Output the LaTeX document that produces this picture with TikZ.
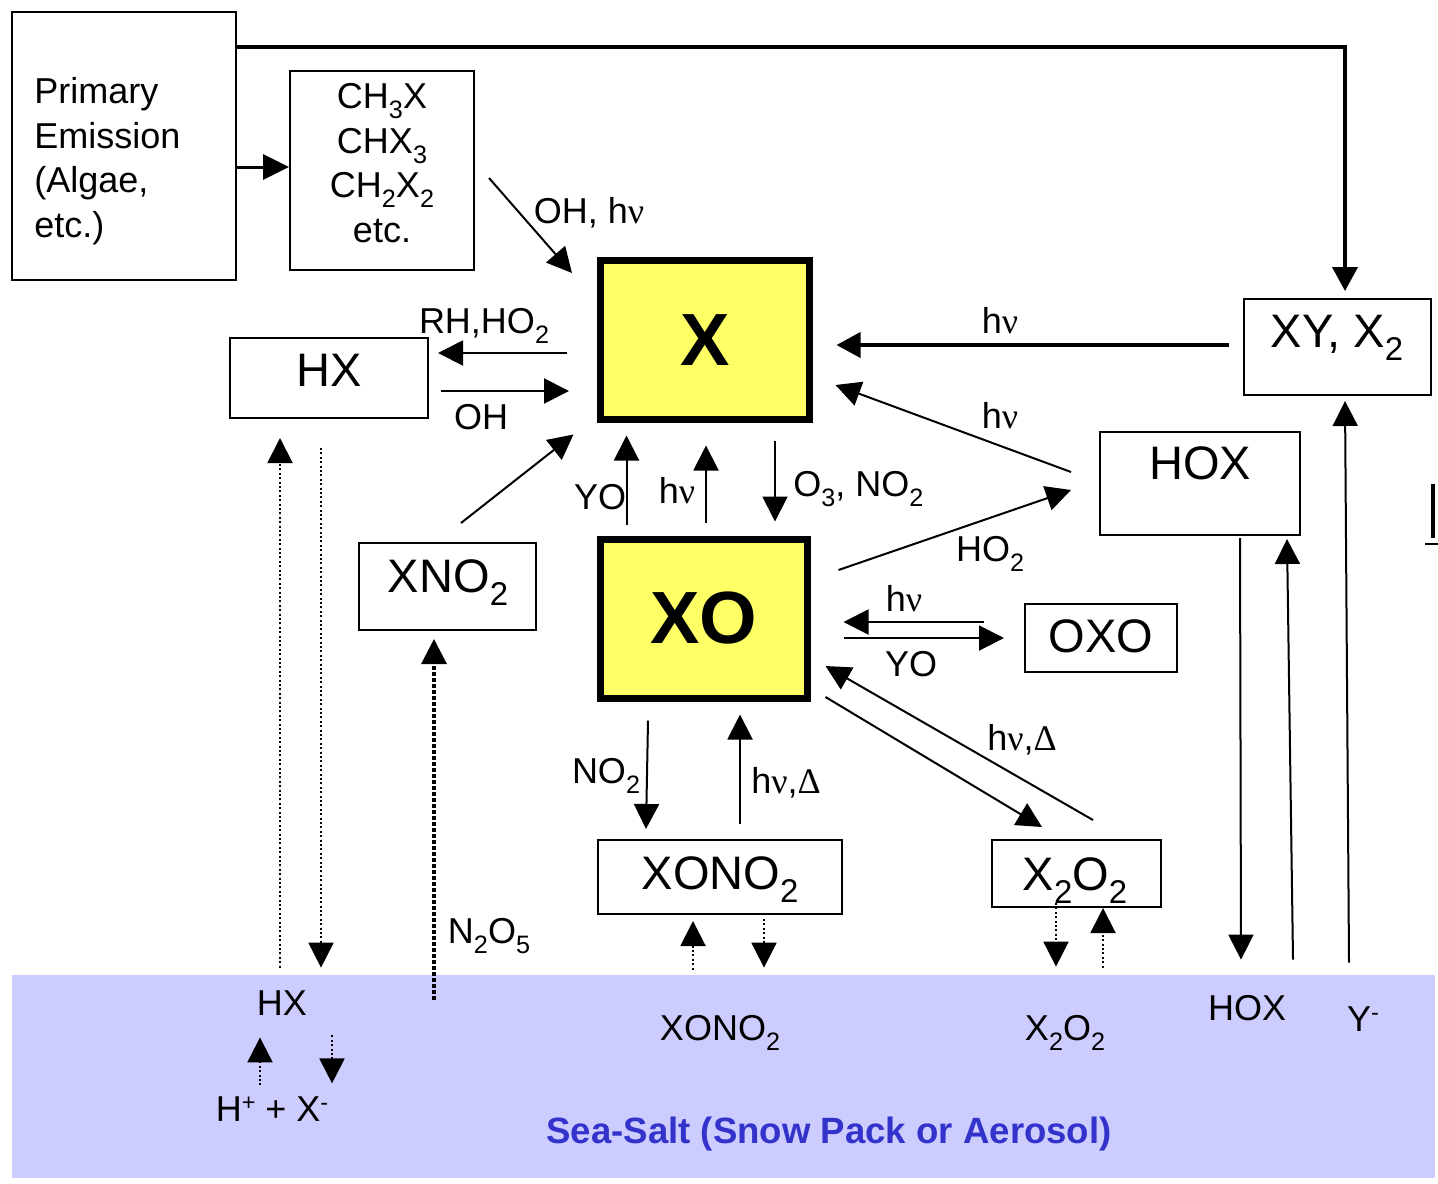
\documentclass[tikz,border=0pt]{standalone}
\usepackage{fontspec}
\usepackage{graphicx}
\setmainfont{Liberation Sans}
\newfontfamily\grk{Liberation Serif}
\usetikzlibrary{arrows.meta,calc}
\definecolor{xyellow}{HTML}{FFFF66}
\definecolor{seafill}{HTML}{CCCCFF}
\definecolor{seablue}{HTML}{3333CC}
\newcommand{\myhnu}{h{\grk ν}}
\newcommand{\mydelta}{{\grk Δ}}
\newcommand{\dn}[1]{\raisebox{-0.28em}{\scalebox{0.7}{#1}}}
\newcommand{\up}[1]{\raisebox{0.3em}{\scalebox{0.65}{#1}}}
\begin{document}
\begin{tikzpicture}[x=0.5pt,y=-0.5pt,
  box/.style={draw,line width=1pt,rectangle,inner sep=0pt},
  ybox/.style={draw,line width=3.5pt,fill=xyellow,rectangle,inner sep=0pt,
    minimum width=104.5pt,minimum height=79.5pt,font=\bfseries\fontsize{37}{40}\selectfont},
  lbl/.style={inner sep=0pt,anchor=base,font=\fontsize{18}{22}\selectfont},
  big/.style={inner sep=0pt,anchor=base,font=\fontsize{23.5}{28}\selectfont},
  arr/.style={line width=1pt,-{Triangle[length=12.5pt,width=12.5pt]}},
  thickarr/.style={line width=2pt,-{Triangle[length=12pt,width=12.5pt]}},
  dotarr/.style={line width=1pt,dash pattern=on 1pt off 1.2pt,-{Triangle[length=12.5pt,width=12.5pt]}}
]
\useasboundingbox (0,0) rectangle (1438,1183);

% sea salt
\node[fill=seafill,inner sep=0pt,minimum width=711.5pt,minimum height=101.5pt] (sea) at (723.5,1076.5) {};

% boxes
\node[box,minimum width=112pt,minimum height=134pt] (prim) at (124,146) {};
\node[inner sep=0pt,anchor=west,align=left,font=\fontsize{18}{22.3}\selectfont] (primt) at (34,161) {Primary\\Emission\\(Algae,\\etc.)};
\node[box,minimum width=92pt,minimum height=99.5pt] (ch3) at (382,170.5) {};
\node[inner sep=0pt,align=center,font=\fontsize{18}{22.3}\selectfont] (ch3t) at (382,163) {CH\dn{3}X\\CHX\dn{3}\\CH\dn{2}X\dn{2}\\etc.};

\node[ybox] (X) at (705,340) {X};
\node[ybox,minimum width=103.5pt] (XO) at (703.5,618.5) {XO};

\node[box,minimum width=99pt,minimum height=40pt] (HX) at (329,378) {};
\node[big] (HXt) at (329,386) {HX};
\node[box,minimum width=88.5pt,minimum height=43.5pt] (XNO2) at (447.5,586.5) {};
\node[big] (XNO2t) at (448,592) {XNO\dn{2}};
\node[box,minimum width=93.5pt,minimum height=48pt] (XY) at (1337.5,347) {};
\node[big] (XYt) at (1337,347) {XY, X\dn{2}};
\node[box,minimum width=100pt,minimum height=51.5pt] (HOX) at (1200,483.5) {};
\node[big] (HOXt) at (1200,479) {HOX};
\node[box,minimum width=76pt,minimum height=34pt] (OXO) at (1101,638) {};
\node[big] (OXOt) at (1101,652) {OXO};
\node[box,minimum width=84.5pt,minimum height=33.5pt] (X2O2) at (1076.5,873.5) {};
\node[big] (X2O2t) at (1075,890) {X\dn{2}O\dn{2}};
\node[box,minimum width=122pt,minimum height=37pt] (XONO2) at (720,877) {};
\node[big] (XONO2t) at (720,889) {XONO\dn{2}};

% partial box at right edge
\draw[line width=2pt] (1432.5,484) -- (1432.5,538);
\draw[line width=1pt] (1425,543.5) -- (1438,543.5);

% connectors
\draw[thickarr] ($(prim.north east)+(0,36)$) -| ($(XY.north)+(7.5,-7)$);
\draw[line width=1.5pt,-{Triangle[length=13pt,width=12.5pt]}] ($(prim.east)+(0,21)$) -- ($(ch3.west)+(0,-3.5)$);
\draw[arr] ($(ch3.south east)+(14,-93)$) -- ($(X.north west)+(-25,16)$);
\draw[arr] ($(X.west)+(-30,13)$) -- ($(HX.east)+(9,-25)$);
\draw[arr] ($(HX.east)+(12,13)$) -- ($(X.west)+(-28,51)$);
\draw[arr] ($(XNO2.north)+(13.5,-19)$) -- ($(X.south west)+(-23.5,11.5)$);
\draw[arr] ($(XO.north west)+(30,-11)$) -- ($(X.south west)+(29.5,12.5)$);
\draw[arr] ($(XO.north)+(2.5,-13)$) -- ($(X.south)+(1,22.5)$);
\draw[arr] ($(X.south)+(70,17.5)$) -- ($(XO.north)+(71.5,-14)$);
\draw[thickarr] ($(XY.west)+(-14,-2)$) -- ($(X.east)+(23.5,5)$);
\draw[arr] ($(HOX.west)+(-28,-11.5)$) -- ($(X.east)+(22.5,45)$);
\draw[arr] ($(XO.east)+(28,-48.5)$) -- ($(HOX.west)+(-28,6.5)$);
\draw[arr] ($(OXO.west)+(-40,-16)$) -- ($(XO.east)+(33,3.5)$);
\draw[arr] ($(XO.east)+(33,19.5)$) -- ($(OXO.west)+(-20,0)$);
\draw[arr] ($(X2O2.north)+(16.5,-19)$) -- ($(XO.east)+(15,47.5)$);
\draw[arr] ($(XO.east)+(15,78.5)$) -- ($(X2O2.north)+(-34.5,-12)$);
\draw[arr] ($(XO.south)+(-55.5,19)$) -- ($(XONO2.north)+(-74,-10)$);
\draw[arr] ($(XONO2.north)+(20,-15)$) -- ($(XO.south)+(36.5,13)$);
\draw[dotarr] ($(sea.north)+(-30.5,-5)$) -- ($(XONO2.south)+(-27,6)$);
\draw[dotarr] ($(XONO2.south)+(44,4)$) -- ($(sea.north)+(40.5,-7)$);
\draw[dotarr] ($(X2O2.south)+(-20.5,-5)$) -- ($(sea.north)+(332.5,-8)$);
\draw[dotarr] ($(sea.north)+(379.5,-7)$) -- ($(X2O2.south)+(26.5,0)$);
\draw[arr] ($(HOX.south)+(40,2)$) -- ($(sea.north)+(517.5,-15)$);
\draw[arr] ($(sea.north)+(569.5,-15)$) -- ($(HOX.south)+(87,3)$);
\draw[arr] ($(sea.north)+(625.5,-12)$) -- ($(XY.south)+(7.5,5)$);
\draw[dotarr] ($(sea.north)+(-443.5,-7)$) -- ($(HX.south)+(-49,19)$);
\draw[dotarr] ($(HX.south)+(-8,29)$) -- ($(sea.north)+(-402.5,-7)$);
\draw[line width=1.6pt,dash pattern=on 1.6pt off 1.4pt,-{Triangle[length=12.5pt,width=12.5pt]}] ($(sea.north)+(-289.5,25)$) -- ($(XNO2.south)+(-13.5,8)$);

% labels
\node[lbl] (l1) at (589,223) {OH, \myhnu};
\node[lbl] (l2) at (484,333) {RH,HO\dn{2}};
\node[lbl] (l3) at (481,429) {OH};
\node[lbl] (l4) at (600,509) {YO};
\node[lbl] (l5) at (677,503) {\myhnu};
\node[lbl,anchor=base west] (l6) at (793,496) {O\dn{3}, NO\dn{2}};
\node[lbl] (l7) at (1000,333) {\myhnu};
\node[lbl] (l8) at (1000,428) {\myhnu};
\node[lbl] (l9) at (990,561) {HO\dn{2}};
\node[lbl] (l10) at (904,611) {\myhnu};
\node[lbl] (l11) at (911,676) {YO};
\node[lbl] (l12) at (1022,750) {\myhnu,\mydelta};
\node[lbl] (l13) at (606,783) {NO\dn{2}};
\node[lbl] (l14) at (786,793) {\myhnu,\mydelta};
\node[lbl] (l15) at (489,943) {N\dn{2}O\dn{5}};

% sea texts
\node[lbl] (HXs) at (282,1015) {HX};
\node[lbl] (XONO2s) at (720,1040) {XONO\dn{2}};
\node[lbl] (X2O2s) at (1065,1040) {X\dn{2}O\dn{2}};
\node[lbl] (HOXs) at (1247,1020) {HOX};
\node[lbl] (Ys) at (1363,1031) {Y\up{-}};
\node[lbl] (HpX) at (272,1121) {H\up{+} + X\up{-}};
\node[lbl,text=seablue,font=\bfseries\fontsize{18.3}{22}\selectfont] (seat) at (829,1143) {Sea-Salt (Snow Pack or Aerosol)};
\draw[dotarr] ($(HXs.south)+(-22,70)$) -- ($(HXs.south)+(-22,22)$);
\draw[dotarr] ($(HXs.south)+(50,20)$) -- ($(HXs.south)+(50,68)$);
\end{tikzpicture}
\end{document}
